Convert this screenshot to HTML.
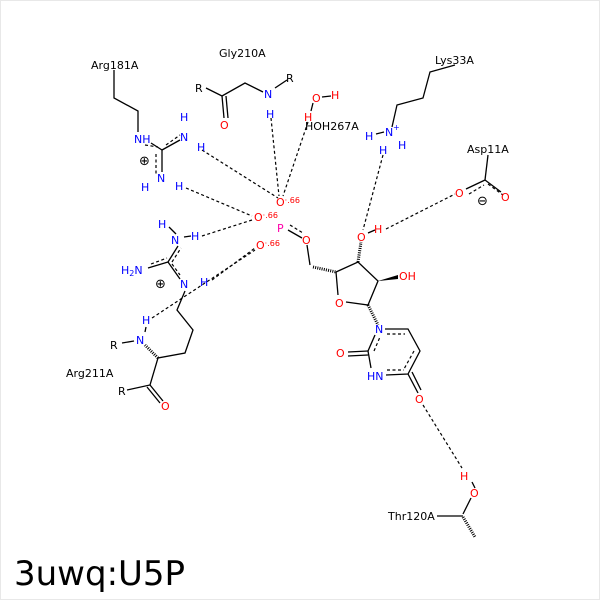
<!DOCTYPE html>
<html><head><style>body{margin:0;background:#fff}svg{display:block}text{font-family:"DejaVu Sans","Liberation Sans",sans-serif}</style></head>
<body><svg width="600" height="600" viewBox="0 0 600 600" xmlns="http://www.w3.org/2000/svg">
<rect x="0.5" y="0.5" width="599" height="599" fill="#fff" stroke="#e8e8e8"/>
<g stroke="#000" stroke-width="1.3" fill="none">
<polyline points="114,70 114,98 138,111 138,132"/>
<line x1="151" y1="143" x2="162" y2="150"/><line x1="162" y1="150" x2="180" y2="140"/><line x1="162" y1="150" x2="162" y2="172"/>
<polyline points="206,88 222,96 245,83 263,92"/><line x1="222" y1="96" x2="224" y2="118"/><line x1="226" y1="96" x2="228" y2="118"/><line x1="275" y1="88" x2="287" y2="80"/>
<line x1="313" y1="103" x2="311" y2="111"/><line x1="322" y1="97" x2="331" y2="96"/>
<polyline points="455,65 430,72 423,98 397,105 392,127"/>
<line x1="376" y1="134" x2="384" y2="132"/>
<line x1="488" y1="155" x2="485" y2="180"/><line x1="485" y1="180" x2="466" y2="189"/><line x1="485" y1="180" x2="501" y2="192"/>
<line x1="368" y1="233" x2="375" y2="230"/>
<line x1="307" y1="245" x2="310" y2="265"/>
<polyline points="336,272 358,262 378,281 368,305 346,302"/><line x1="336" y1="272" x2="338" y2="295"/>
<polyline points="385,329 408,329 420,351 408,374 386,375"/><line x1="371" y1="368" x2="368" y2="351"/><line x1="368" y1="351" x2="375" y2="335"/>
<line x1="368" y1="351" x2="348" y2="352"/><line x1="368" y1="355" x2="348" y2="356"/>
<line x1="408" y1="374" x2="418" y2="393"/><line x1="412" y1="372" x2="421" y2="390"/>
<line x1="475" y1="488" x2="472" y2="482"/><line x1="471" y1="498" x2="463" y2="514"/><line x1="437" y1="516" x2="463" y2="516"/>
<line x1="168" y1="262" x2="178" y2="246"/><line x1="168" y1="262" x2="148" y2="268"/><line x1="168" y1="262" x2="180" y2="279"/>
<polyline points="185,291 177,310 193,330 185,353 158,358 150,385 127,390"/><line x1="150" y1="385" x2="163" y2="401"/><line x1="147" y1="387" x2="160" y2="403"/>
<line x1="122" y1="343" x2="134" y2="341"/><line x1="145" y1="332" x2="146" y2="327"/>
<line x1="176" y1="234" x2="169" y2="227"/><line x1="191" y1="236" x2="184" y2="237"/>
<line x1="288" y1="230" x2="302" y2="238"/>
</g>
<g stroke="#000" stroke-width="1.2" fill="none" stroke-dasharray="3,2.5">
<line x1="202" y1="150" x2="278" y2="198"/><line x1="186" y1="188" x2="252" y2="216"/><line x1="202" y1="236" x2="252" y2="220"/>
<line x1="212" y1="280" x2="255" y2="248"/><line x1="152" y1="318" x2="255" y2="250"/><line x1="271" y1="118" x2="279" y2="196"/><line x1="308" y1="122" x2="283" y2="196"/>
<line x1="383" y1="155" x2="363" y2="230"/><line x1="386" y1="229" x2="455" y2="194"/><line x1="423" y1="405" x2="462" y2="468"/>
<line x1="156" y1="154" x2="156" y2="174"/><line x1="145" y1="145" x2="158" y2="147"/><line x1="166" y1="145" x2="180" y2="135"/>
<line x1="290" y1="225" x2="303" y2="233"/><line x1="469" y1="194" x2="484" y2="185"/><line x1="488" y1="184" x2="503" y2="195"/>
<line x1="387" y1="334" x2="405" y2="334"/><line x1="414" y1="351" x2="404" y2="369"/><line x1="387" y1="370" x2="404" y2="370"/><line x1="374" y1="351" x2="380" y2="337"/>
<line x1="172" y1="262" x2="181" y2="248"/><line x1="151" y1="264" x2="167" y2="258"/><line x1="172" y1="264" x2="180" y2="275"/>
</g>
<g stroke="#000" stroke-width="1" stroke-dasharray="1,1.2">
<line x1="313" y1="267" x2="336" y2="272" stroke-width="3"/><line x1="358" y1="262" x2="361" y2="242" stroke-width="3"/>
<line x1="368" y1="305" x2="378" y2="325" stroke-width="3"/><line x1="158" y1="358" x2="145" y2="345" stroke-width="3"/><line x1="463" y1="517" x2="475" y2="537" stroke-width="3"/>
</g>
<polygon points="378,281 398,275 398,279" fill="#000"/>
<g font-size="11" fill="#000">
<text x="91" y="69">Arg181A</text><text x="219" y="57">Gly210A</text><text x="195" y="92">R</text><text x="286" y="82">R</text>
<text x="305" y="130">HOH267A</text><text x="435" y="64">Lys33A</text><text x="467" y="153">Asp11A</text>
<text x="66" y="377">Arg211A</text><text x="110" y="349">R</text><text x="118" y="395">R</text><text x="388" y="520">Thr120A</text>
</g>
<g font-size="11" fill="#0000ff">
<text x="134" y="143">NH</text><text x="180" y="141">N</text><text x="180" y="121">H</text><text x="197" y="151">H</text>
<text x="157" y="182">N</text><text x="141" y="191">H</text><text x="175" y="190">H</text>
<text x="264" y="98">N</text><text x="266" y="118">H</text>
<text x="385" y="136">N</text><text x="393" y="130" font-size="8">+</text><text x="365" y="140">H</text><text x="398" y="149">H</text><text x="379" y="154">H</text>
<text x="171" y="244">N</text><text x="158" y="228">H</text><text x="191" y="240">H</text>
<text x="121" y="274">H<tspan font-size="8" dy="2">2</tspan><tspan dy="-2">N</tspan></text>
<text x="180" y="288">N</text><text x="200" y="286">H</text>
<text x="136" y="344">N</text><text x="142" y="324">H</text>
<text x="375" y="333">N</text><text x="367" y="380">HN</text>
</g>
<g font-size="11" fill="#ff0000">
<text x="220" y="129">O</text><text x="312" y="102">O</text><text x="331" y="99">H</text><text x="304" y="121">H</text>
<text x="276" y="206">O<tspan font-size="8" dy="-3">·.66</tspan></text>
<text x="254" y="221">O<tspan font-size="8" dy="-3">·.66</tspan></text>
<text x="256" y="249">O<tspan font-size="8" dy="-3">·.66</tspan></text>
<text x="302" y="244">O</text><text x="335" y="307">O</text><text x="399" y="280">OH</text>
<text x="357" y="241">O</text><text x="374" y="233">H</text>
<text x="455" y="197">O</text><text x="501" y="201">O</text>
<text x="336" y="357">O</text><text x="415" y="403">O</text><text x="460" y="480">H</text><text x="470" y="497">O</text>
<text x="161" y="410">O</text>
</g>
<text x="277" y="232" font-size="11" fill="#ff00aa">P</text>
<g font-size="13" fill="#000"><text x="139" y="165">⊕</text><text x="155" y="288">⊕</text><text x="477" y="205">⊖</text></g>
<text x="14" y="585" font-size="34" fill="#000">3uwq:U5P</text>
</svg></body></html>
